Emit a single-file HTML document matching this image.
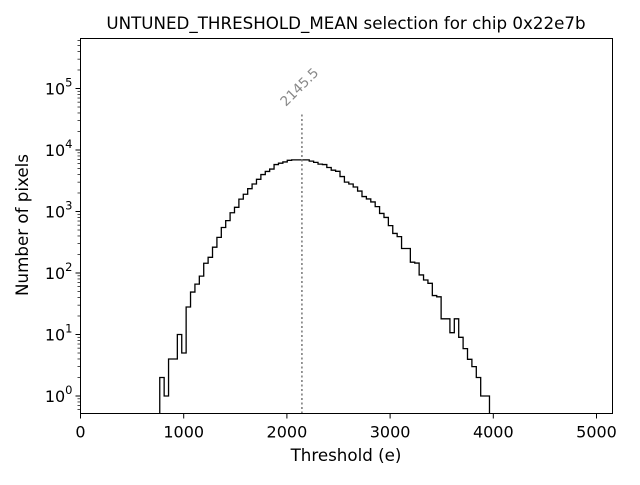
<!DOCTYPE html>
<html><head><meta charset="utf-8"><style>
body{margin:0;background:#fff;}
svg text{font-family:"DejaVu Sans","Liberation Sans",sans-serif;}
</style></head><body>
<svg id="chart" width="640" height="480" viewBox="0 0 640 480" xmlns="http://www.w3.org/2000/svg">
<text x="346" y="29" font-size="16.7" text-anchor="middle">UNTUNED_THRESHOLD_MEAN selection for chip 0x22e7b</text>
<text x="346" y="461" font-size="16.7" text-anchor="middle">Threshold (e)</text>
<text transform="translate(28,225) rotate(-90)" font-size="16.7" text-anchor="middle">Number of pixels</text>
<g id="ticks"></g>
<path id="hist" fill="none" stroke="#000" stroke-width="1.3"/>
<line id="mline" stroke="#777" stroke-width="1.5" stroke-dasharray="2,2.5"/>
<text id="mlabel" font-size="13.5" fill="#888"></text>
<rect x="80.5" y="38.5" width="532" height="375" fill="none" stroke="#000" stroke-width="1"/>
</svg>
<script>
const binStart = 768;
const binWidth = 42.6;
const counts = [2,1,4,4,10,5,28,49,66,89,144,180,263,380,550,710,955,1170,1590,1910,2350,2800,3340,3990,4480,4900,5800,6100,6400,6800,6900,6900,6900,6900,6600,6300,5900,5800,5200,4700,4500,3700,3000,2800,2500,2150,1750,1600,1430,1200,930,800,590,440,390,250,250,150,145,93,77,68,43,41,18,18,10.7,18,9,5.9,3.95,3,2,1,1];
const meanValue = 2145.5;
const xTicks = [0,1000,2000,3000,4000,5000];
const yTicks = [0,1,2,3,4,5];

const L=80.5,R=612.5,T=38.5,B=413.5;
const xs = v => L + v*0.1032;
const ys = v => 396 - Math.log10(v)*61.5;
const svgNS="http://www.w3.org/2000/svg";
const g=document.getElementById('ticks');
function mk(tag,attrs){const e=document.createElementNS(svgNS,tag);for(const k in attrs)e.setAttribute(k,attrs[k]);g.appendChild(e);return e;}
xTicks.forEach(t=>{
  const x=xs(t);
  const l=mk('line',{x1:x,x2:x,y1:B,y2:B+5,stroke:'#000'});
  
  
  const tx=mk('text',{x:x,y:B+24,'font-size':'16','text-anchor':'middle'});
  tx.textContent=t;
  
  
});
for(let d=-1;d<=5;d++){
  for(let m=1;m<10;m++){
    const v=m*Math.pow(10,d);const y=ys(v);
    if(y<T||y>B)continue;
    const l=mk('line',{x1:L-(m===1?5:3),x2:L,y1:y,y2:y,stroke:'#000','stroke-width':m===1?1:0.7});
    
    
  }
}
yTicks.forEach(p=>{
  const y=ys(Math.pow(10,p));
  const tx=mk('text',{x:L-8,y:y+6,'font-size':'16','text-anchor':'end'});
  tx.innerHTML='10<tspan font-size="11.5" dy="-8">'+p+'</tspan>';
  
  
});
let d='';
counts.forEach((c,i)=>{
  const x0=xs(binStart+i*binWidth),x1=xs(binStart+(i+1)*binWidth),y=ys(c);
  d+=(i===0?'M'+x0+','+B+' L'+x0+','+y:' L'+x0+','+y)+' L'+x1+','+y;
  if(i===counts.length-1)d+=' L'+x1+','+B;
});
document.getElementById('hist').setAttribute('d',d);
const mx=xs(meanValue);
const ml=document.getElementById('mline');
ml.setAttribute('x1',mx);ml.setAttribute('x2',mx);ml.setAttribute('y1',B);ml.setAttribute('y2',113);
const lb=document.getElementById('mlabel');
lb.textContent=meanValue.toFixed(1);
lb.setAttribute('transform','translate('+(mx-16)+',107) rotate(-45)');
</script>
</body></html>
